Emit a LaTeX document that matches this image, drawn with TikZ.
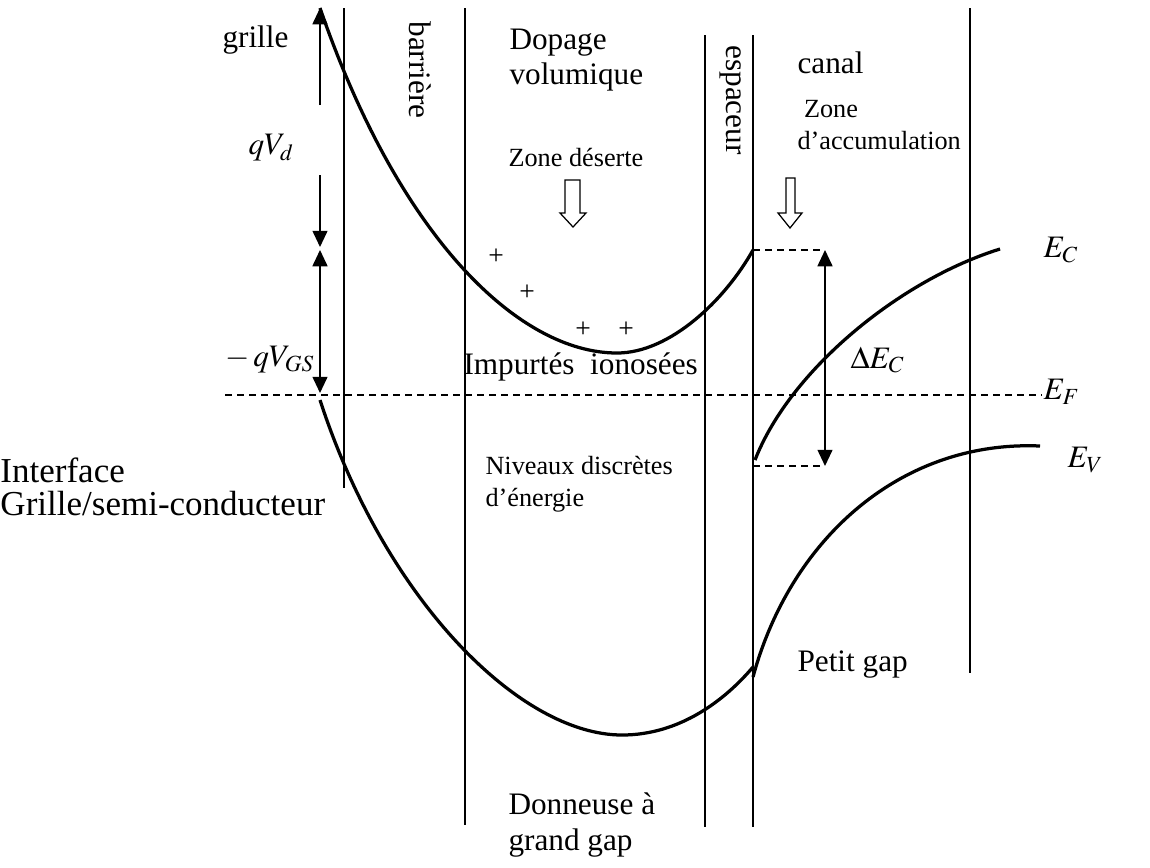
\documentclass[tikz,border=0pt]{standalone}
\usepackage{mathptmx}
\usepackage{fontspec}
\setmainfont{Liberation Serif}
\usetikzlibrary{arrows.meta,positioning}

\begin{document}
\begin{tikzpicture}[
  x=0.4pt, y=-0.4pt,
  wall/.style={line width=0.6pt},
  band/.style={line width=1.3pt},
  level/.style={line width=0.6pt, dash pattern=on 2.8pt off 2pt},
  dim/.style={line width=0.6pt, {Triangle[length=6.5pt,width=6pt]}-{Triangle[length=6.5pt,width=6pt]}},
  half/.style={line width=0.6pt, -{Triangle[length=6.5pt,width=6pt]}},
  hollow/.style={line width=0.5pt, fill=white},
  txt/.style={inner sep=0pt, anchor=west, align=left, font=\fontsize{12.5}{14.2}\selectfont},
  note/.style={txt, font=\fontsize{10.5}{12.6}\selectfont},
  ion/.style={inner sep=0pt, font=\fontsize{11}{11}\selectfont},
]
\useasboundingbox (0,0) rectangle (1150,867);

% layer limits
\draw[wall] (344,8) -- (344,488);
\draw[wall] (465,8) -- (465,825);
\draw[wall] (705,35) -- (705,827);
\draw[wall] (753,35) -- (753,827);
\draw[wall] (970,8) -- (970,673);

% Fermi level
\draw[level] (225,395) -- (1042,395);

% conduction and valence bands
\draw[band] (320,8) .. controls (400,240) and (520,353) .. (617,353)
  .. controls (670,353) and (725,300) .. (753,250);
\draw[band] (755,460) .. controls (790,370) and (900,280) .. (1000,249);
\draw[band] (320,400) .. controls (385,600) and (520,735) .. (622,735)
  .. controls (680,735) and (725,700) .. (753,667);
\draw[band] (753,677) .. controls (790,540) and (900,440) .. (1040,446);

% labels
\node[txt] (grille) at (222,40) {grille};
\node[txt, rotate=-90, anchor=center] (barriere) at (420,70) {barrière};
\node[txt] (dopage) at (509,60) {Dopage\\volumique};
\node[note] (deserte) at (508,157) {Zone déserte};
\node[txt, rotate=-90, anchor=center] (espaceur) at (731,100) {espaceur};
\node[txt] (canal) at (797,63) {canal};
\node[note] (accu) at (797,125) {\ Zone\\d’accumulation};
\node[txt] (qvd) at (248,148) {$qV_d$};
\node[txt] (qvgs) at (225,360) {$-\,qV_{GS}$};
\node[txt] (impur) at (463,367) {Impurtés\ \ ionosées};
\node[txt] (dec) at (850,360) {$\Delta E_C$};
\node[txt] (ec) at (1043,250) {$E_C$};
\node[txt] (ef) at (1043,392) {$E_F$};
\node[txt] (ev) at (1067,460) {$E_V$};
\node[note] (niveaux) at (485,484) {Niveaux discrètes\\d’énergie};
\node[txt, font=\fontsize{14}{13.4}\selectfont] (interface) at (0,487) {Interface\\Grille/semi-conducteur};
\node[txt] (petit) at (797,665) {Petit gap};
\node[txt] (donneuse) at (508,825) {Donneuse à\\grand gap};

% ionised donors
\foreach \x/\y [count=\i] in {496/257, 527/293, 583/330, 626/330}
  \node[ion] (plus\i) at (\x,\y) {+};

% qV_d and -qV_GS
\coordinate (vdtop) at (320,8);
\coordinate (vda) at (320,105);
\coordinate (vdb) at (320,175);
\coordinate (vdbot) at (320,247);
\draw[half] (vda) -- (vdtop);
\draw[half] (vdb) -- (vdbot);
\coordinate (gstop) at (320,250);
\coordinate (gsbot) at (320,393);
\draw[dim] (gstop) -- (gsbot);

% band offset
\coordinate (ecup) at (753,250);
\coordinate (eclow) at (753,466);
\coordinate (dtop) at (825,250);
\coordinate (dbot) at (825,466);
\draw[level] (ecup) -- (dtop);
\draw[level] (eclow) -- (dbot);
\draw[dim] (dtop) -- (dbot);

% hollow arrows
\draw[hollow] (565,180) -- (580,180) -- (580,213) -- (586,213) -- (573,227)
  -- (560,213) -- (565,213) -- cycle;
\draw[hollow] (786,178) -- (795,178) -- (795,213) -- (802,213) -- (790,228)
  -- (778,213) -- (786,213) -- cycle;
\end{tikzpicture}
\end{document}
